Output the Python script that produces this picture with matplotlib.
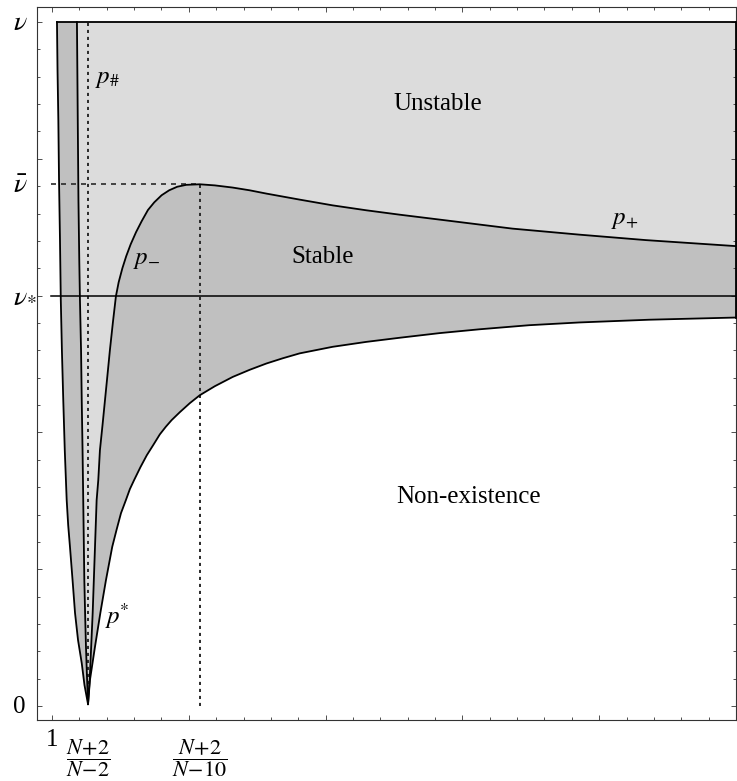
#!/usr/bin/env python3
# -*- coding: utf-8 -*-

"""
安定・不安定領域の相図を再現するスクリプト
"""

import matplotlib
matplotlib.use('Agg')  # GUIなしのバックエンド
import matplotlib.pyplot as plt
from matplotlib.ticker import MultipleLocator
from matplotlib.transforms import blended_transform_factory

plt.rcParams['font.family'] = ['Liberation Serif', 'DejaVu Serif']
plt.rcParams['mathtext.fontset'] = 'stix'

# 特別な値
nu_top = 25.0      # ν
nu_bar = 19.07     # ν̄
nu_star = 15.0     # ν*
x_sharp = 1.264    # (N+2)/(N-2)
x_bar = 2.08       # (N+2)/(N-10)
x_end = 6.0

# 左の細い領域：外側の曲線（上から頂点へ）
outer_left_x = [1.036, 1.040, 1.046, 1.051, 1.058, 1.064, 1.072, 1.082, 1.093,
                1.107, 1.118, 1.131, 1.150, 1.168, 1.190, 1.217, 1.237, 1.263]
outer_left_y = [25.00, 23.24, 21.41, 19.22, 17.03, 14.83, 13.01, 11.18, 9.35,
                7.53, 6.61, 5.82, 4.60, 3.40, 2.41, 1.57, 0.77, 0.07]

# 左の細い領域：内側の曲線（上から頂点へ）
inner_left_x = [1.182, 1.185, 1.188, 1.193, 1.199, 1.204, 1.212, 1.217, 1.223,
                1.228, 1.236, 1.242, 1.248, 1.255, 1.263]
inner_left_y = [25.00, 23.24, 21.41, 18.49, 16.30, 14.83, 13.01, 11.18, 9.35,
                7.53, 4.60, 3.32, 2.17, 1.13, 0.07]

# p_- と p_+ （頂点から右端へ）
p_minus_x = [1.263, 1.275, 1.285, 1.297, 1.314, 1.326, 1.338, 1.350, 1.369,
             1.387, 1.405, 1.423, 1.445, 1.467, 1.487, 1.514, 1.542, 1.575,
             1.614, 1.655, 1.701, 1.747, 1.801, 1.856, 1.915, 1.981, 2.080,
             2.190, 2.321, 2.445, 2.567, 2.810, 3.051, 3.297, 3.540, 3.881,
             4.365, 4.854, 5.341, 6.0]
p_minus_y = [0.07, 0.95, 2.05, 3.40, 5.82, 7.53, 8.26, 9.35, 10.27,
             11.18, 12.09, 13.01, 14.03, 14.98, 15.49, 16.00, 16.44, 16.88,
             17.32, 17.72, 18.13, 18.41, 18.67, 18.85, 18.98, 19.05, 19.07,
             19.03, 18.95, 18.85, 18.73, 18.51, 18.30, 18.12, 17.96, 17.75,
             17.45, 17.23, 17.03, 16.81]

# p* （存在領域の下側境界、頂点から右端へ）
p_star_x = [1.263, 1.277, 1.314, 1.353, 1.394, 1.440, 1.471, 1.504, 1.540,
            1.569, 1.600, 1.646, 1.693, 1.741, 1.788, 1.832, 1.874,
            1.934, 2.007, 2.080, 2.190, 2.321, 2.445, 2.567, 2.686, 2.810,
            3.051, 3.297, 3.540, 3.832, 4.124, 4.489, 4.854, 5.365, 6.0]
p_star_y = [0.07, 0.95, 2.17, 3.40, 4.60, 5.82, 6.43, 7.05, 7.53,
            7.93, 8.26, 8.73, 9.17, 9.55, 9.93, 10.21, 10.45,
            10.74, 11.07, 11.36, 11.69, 12.03, 12.29, 12.52, 12.71, 12.89,
            13.13, 13.31, 13.46, 13.63, 13.77, 13.92, 14.02, 14.12, 14.20]

light = '#dcdcdc'
dark = '#c0c0c0'
fs = 18

fig = plt.figure(figsize=(7.37, 7.81), dpi=100)
ax = fig.add_axes([37 / 737, 61 / 781, 699 / 737, 713 / 781])

# 不安定領域（薄い灰色）
ux = inner_left_x + p_minus_x[1:] + [x_end, inner_left_x[0]]
uy = inner_left_y + p_minus_y[1:] + [nu_top, nu_top]
ax.fill(ux, uy, color=light, lw=0, zorder=1)

# 安定領域（濃い灰色）
sx = p_minus_x + p_star_x[::-1]
sy = p_minus_y + p_star_y[::-1]
ax.fill(sx, sy, color=dark, lw=0, zorder=1)

# 左の細い領域
lx = outer_left_x + inner_left_x[::-1]
ly = outer_left_y + inner_left_y[::-1]
ax.fill(lx, ly, color=dark, lw=0, zorder=1)

# 境界線
lw = 1.3
for cx, cy in [(outer_left_x, outer_left_y), (inner_left_x, inner_left_y),
               (p_minus_x, p_minus_y), (p_star_x, p_star_y)]:
    ax.plot(cx, cy, color='k', lw=lw, zorder=3, solid_joinstyle='round')
ax.plot([outer_left_x[0], x_end], [nu_top, nu_top], color='k', lw=lw, zorder=3)
ax.plot([x_end, x_end], [p_star_y[-1], nu_top], color='k', lw=lw, zorder=3,
        clip_on=False)
ax.plot([0.99, x_end], [nu_star, nu_star], color='k', lw=1.1, zorder=3)

# 補助線
ax.plot([0.99, x_bar], [nu_bar, nu_bar], color='#2a2a2a', lw=1.2,
        ls=(0, (3, 3)), zorder=2)
ax.plot([x_bar, x_bar], [0, nu_bar], color='#2a2a2a', lw=1.4,
        ls=(0, (1.6, 2)), zorder=2)
ax.plot([x_sharp, x_sharp], [0.3, nu_top], color='#2a2a2a', lw=1.4,
        ls=(0, (1.6, 2)), zorder=2)

# 領域の名前
ax.text(3.818, 21.78, 'Unstable', ha='center', va='baseline', fontsize=fs)
ax.text(2.978, 16.19, 'Stable', ha='center', va='baseline', fontsize=fs)
ax.text(4.047, 7.42, 'Non-existence', ha='center', va='baseline', fontsize=fs)
ax.text(1.314, 22.76, r'$p_{\#}$', ha='left', va='baseline', fontsize=fs)
ax.text(1.591, 16.15, r'$p_{-}$', ha='left', va='baseline', fontsize=fs)
ax.text(5.086, 17.61, r'$p_{+}$', ha='left', va='baseline', fontsize=fs)
ax.text(1.387, 3.0, r'$p^{\!\!*}$', ha='left', va='baseline', fontsize=fs)

# 軸の設定
ax.set_xlim(0.89, x_end)
ax.set_ylim(-0.51, 25.55)
ax.xaxis.set_major_locator(MultipleLocator(1.0))
ax.xaxis.set_minor_locator(MultipleLocator(0.2))
ax.yaxis.set_major_locator(MultipleLocator(5.0))
ax.yaxis.set_minor_locator(MultipleLocator(1.0))
ax.tick_params(which='both', direction='in', top=True, right=True,
               labelbottom=False, labelleft=False, width=0.6, color='#333333')
ax.tick_params(which='major', length=3.4)
ax.tick_params(which='minor', length=2.2)
for sp in ax.spines.values():
    sp.set_linewidth(0.8)
    sp.set_color('#333333')

# 目盛りラベル
tx = blended_transform_factory(ax.transData, ax.transAxes)
ax.text(1.0, -0.012, '1', transform=tx, ha='center', va='top', fontsize=fs)
ax.text(x_sharp, -0.024, r'$\dfrac{N\!+\!2}{N\!-\!2}$', transform=tx,
        ha='center', va='top', fontsize=16)
ax.text(x_bar, -0.024, r'$\dfrac{N\!+\!2}{N\!-\!10}$', transform=tx,
        ha='center', va='top', fontsize=16)

ty = blended_transform_factory(ax.transAxes, ax.transData)
ax.text(-0.034, 24.70, r'$\nu$', transform=ty, ha='left', va='baseline', fontsize=20)
ax.text(-0.034, 18.74, r'$\bar{\nu}$', transform=ty, ha='left', va='baseline', fontsize=20)
ax.text(-0.034, 14.76, r'$\nu_{*}$', transform=ty, ha='left', va='baseline', fontsize=20)
ax.text(-0.034, -0.26, '0', transform=ty, ha='left', va='baseline', fontsize=fs)

fig.savefig('out.png', dpi=100)
plt.close(fig)
